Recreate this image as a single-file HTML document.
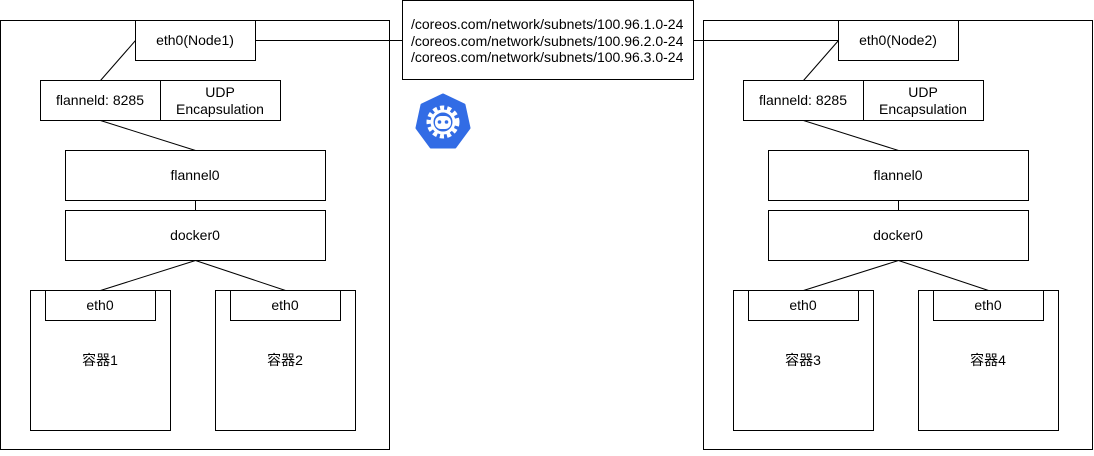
<!DOCTYPE html>
<html><head><meta charset="utf-8"><style>
html,body{margin:0;padding:0;background:#fff;}
svg text{font-family:"Liberation Sans","Noto Sans CJK SC",sans-serif;font-size:14px;fill:#000;}
</style></head><body>
<svg width="1094" height="451" viewBox="0 0 1094 451" xmlns="http://www.w3.org/2000/svg">
<g stroke="#000" stroke-width="1" fill="#fff">
<defs>
<g id="node">
<rect x="0.5" y="20.5" width="389" height="429" fill="#fff"/>
<line x1="135.5" y1="40.5" x2="100.5" y2="80.5"/>
<line x1="100.5" y1="120.5" x2="195.5" y2="150.5"/>
<line x1="195.5" y1="200.5" x2="195.5" y2="210.5"/>
<line x1="195.5" y1="260.5" x2="100.5" y2="290.5"/>
<line x1="195.5" y1="260.5" x2="285.5" y2="290.5"/>
<rect x="135.5" y="20.5" width="120" height="40"/>
<rect x="40.5" y="80.5" width="120" height="40"/>
<rect x="160.5" y="80.5" width="120" height="40"/>
<rect x="65.5" y="150.5" width="260" height="50"/>
<rect x="65.5" y="210.5" width="260" height="50"/>
<rect x="30.5" y="290.5" width="140" height="140"/>
<rect x="45.5" y="290.5" width="110" height="30"/>
<rect x="215.5" y="290.5" width="140" height="140"/>
<rect x="230.5" y="290.5" width="110" height="30"/>
</g>
</defs>
<use href="#node"/>
<use href="#node" x="703"/>
<line x1="255.5" y1="40.5" x2="402.5" y2="40.5"/>
<line x1="693.5" y1="40.5" x2="838.5" y2="40.5"/>
<rect x="402.5" y="0.5" width="291" height="79"/>
</g>
<g>
<text x="411" y="29">/coreos.com/network/subnets/100.96.1.0-24</text>
<text x="411" y="46">/coreos.com/network/subnets/100.96.2.0-24</text>
<text x="411" y="62">/coreos.com/network/subnets/100.96.3.0-24</text>
</g>
<g text-anchor="middle">
<text x="195" y="45">eth0(Node1)</text>
<text x="100" y="105">flanneld: 8285</text>
<text x="220" y="97">UDP</text>
<text x="220" y="114">Encapsulation</text>
<text x="195" y="180">flannel0</text>
<text x="195" y="240">docker0</text>
<text x="100" y="310">eth0</text>
<text x="285" y="310">eth0</text>
<text x="100" y="365">容器1</text>
<text x="285" y="365">容器2</text>
<text x="898" y="45">eth0(Node2)</text>
<text x="803" y="105">flanneld: 8285</text>
<text x="923" y="97">UDP</text>
<text x="923" y="114">Encapsulation</text>
<text x="898" y="180">flannel0</text>
<text x="898" y="240">docker0</text>
<text x="803" y="310">eth0</text>
<text x="988" y="310">eth0</text>
<text x="803" y="365">容器3</text>
<text x="988" y="365">容器4</text>
</g>
<g transform="translate(443,122)">
<polygon points="0,-27 21,-17 26,6 12,25 -12,25 -26,6 -21,-17" fill="#326ce5" stroke="#326ce5" stroke-width="3" stroke-linejoin="round"/>
<circle r="14" fill="none" stroke="#fff" stroke-width="5" stroke-dasharray="4 3"/>
<circle r="11" fill="none" stroke="#fff" stroke-width="3"/>
<rect x="-8" y="-6" width="16" height="13" rx="6" fill="#fff"/>
<circle cx="-3.5" cy="0" r="1.8" fill="#326ce5"/>
<circle cx="3.5" cy="0" r="1.8" fill="#326ce5"/>
</g>
</svg>
</body></html>
